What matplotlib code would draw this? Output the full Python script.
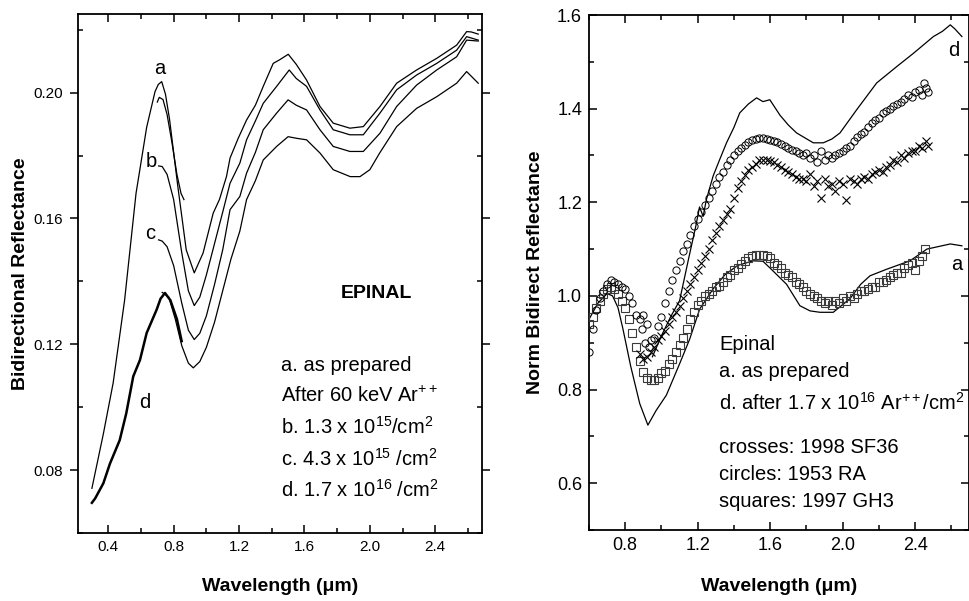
import matplotlib
matplotlib.use("Agg")
import matplotlib.pyplot as plt
from matplotlib.ticker import MultipleLocator, FixedLocator, FuncFormatter

plt.rcParams['font.family'] = ['Liberation Sans', 'DejaVu Sans']
plt.rcParams['mathtext.fontset'] = 'custom'
plt.rcParams['mathtext.rm'] = 'Liberation Sans'
plt.rcParams['mathtext.it'] = 'Liberation Sans'
plt.rcParams['mathtext.default'] = 'regular'

# ---------------- Left panel data (wavelength um, bidirectional reflectance) ----------------
a_wl = [0.30, 0.37, 0.43, 0.50, 0.57, 0.635, 0.686, 0.706, 0.727, 0.75, 0.775, 0.826, 0.877, 0.926, 0.98, 1.042,
        1.08, 1.123, 1.145, 1.195, 1.246, 1.30, 1.348, 1.409, 1.45, 1.501, 1.55, 1.613, 1.695, 1.776,
        1.878, 1.96, 2.062, 2.164, 2.286, 2.409, 2.531, 2.592, 2.62, 2.663]
a_r = [0.0742, 0.0915, 0.1077, 0.134, 0.168, 0.189, 0.2003, 0.2026, 0.2035, 0.1995, 0.1915, 0.170, 0.150, 0.1427, 0.149, 0.1617,
       0.166, 0.1733, 0.1792, 0.1855, 0.1913, 0.1960, 0.202, 0.2093, 0.2105, 0.2122, 0.209, 0.204, 0.1956, 0.1903,
       0.1887, 0.1892, 0.1956, 0.203, 0.2072, 0.2109, 0.2151, 0.2194, 0.2193, 0.2186]

seg_wl = [0.70, 0.712, 0.735, 0.76, 0.79, 0.82, 0.845, 0.863]
seg_r = [0.197, 0.1985, 0.1978, 0.193, 0.184, 0.174, 0.168, 0.166]

b_wl = [0.708, 0.73, 0.76, 0.80, 0.85, 0.89, 0.926, 0.96, 1.0, 1.05, 1.1, 1.145, 1.205, 1.246, 1.30,
        1.348, 1.43, 1.507, 1.55, 1.613, 1.695, 1.776, 1.878, 1.96, 2.062, 2.164, 2.286, 2.409, 2.531,
        2.592, 2.663]
b_r = [0.1767, 0.1765, 0.174, 0.166, 0.149, 0.137, 0.1323, 0.135, 0.142, 0.152, 0.162, 0.1712, 0.1776, 0.185, 0.191,
       0.1966, 0.202, 0.2072, 0.2045, 0.202, 0.1945, 0.1882, 0.1866, 0.1866, 0.1935, 0.2009, 0.2056, 0.2093, 0.2135,
       0.2178, 0.2167]

c_wl = [0.708, 0.73, 0.76, 0.80, 0.85, 0.89, 0.926, 0.96, 1.0, 1.05, 1.1, 1.145, 1.205, 1.246, 1.30,
        1.348, 1.43, 1.50, 1.55, 1.613, 1.695, 1.776, 1.878, 1.96, 2.062, 2.164, 2.286, 2.409, 2.531,
        2.592, 2.663]
c_r = [0.1532, 0.1528, 0.151, 0.145, 0.133, 0.1245, 0.1215, 0.1235, 0.129, 0.139, 0.150, 0.1628, 0.167, 0.1744, 0.181,
       0.1882, 0.1935, 0.1977, 0.196, 0.1945, 0.1882, 0.1829, 0.1813, 0.1813, 0.1871, 0.1956, 0.2024, 0.2072, 0.2114,
       0.2167, 0.2164]

d_wl = [0.73, 0.77, 0.81, 0.85, 0.89, 0.92, 0.96, 1.0, 1.05, 1.1, 1.15, 1.205, 1.246, 1.30, 1.348,
        1.43, 1.50, 1.55, 1.613, 1.695, 1.776, 1.88, 1.94, 2.0, 2.06, 2.164, 2.286, 2.409, 2.531, 2.592, 2.663]
d_r = [0.1365, 0.135, 0.128, 0.1195, 0.114, 0.1125, 0.1145, 0.119, 0.127, 0.137, 0.147, 0.156, 0.166, 0.172, 0.1786,
       0.1829, 0.186, 0.1855, 0.185, 0.1808, 0.1755, 0.1733, 0.1733, 0.1755, 0.1808, 0.1892, 0.195, 0.1987, 0.203,
       0.2067, 0.203]

dvis_wl = [0.30, 0.32, 0.37, 0.41, 0.47, 0.51, 0.553, 0.594, 0.635, 0.696, 0.72, 0.747, 0.78, 0.82, 0.849]
dvis_r = [0.0696, 0.071, 0.0758, 0.082, 0.0895, 0.098, 0.1098, 0.115, 0.1236, 0.131, 0.1345, 0.1363, 0.134, 0.128, 0.121]

# ---------------- Right panel data (normalized reflectance) ----------------
ra_wl = [0.6, 0.65, 0.70, 0.73, 0.76, 0.787, 0.83, 0.88, 0.925, 0.97, 1.027, 1.1, 1.156, 1.211, 1.285,
         1.35, 1.42, 1.506, 1.56, 1.598, 1.69, 1.764, 1.82, 1.875, 1.948, 2.04, 2.1, 2.151, 2.243, 2.372,
         2.465, 2.594, 2.658]
ra_v = [0.95, 0.985, 1.005, 1.0, 0.975, 0.93, 0.85, 0.77, 0.724, 0.755, 0.788, 0.855, 0.908, 0.972, 1.015,
        1.045, 1.065, 1.075, 1.074, 1.06, 1.025, 0.979, 0.968, 0.965, 0.965, 0.994, 1.025, 1.043, 1.057, 1.075,
        1.10, 1.111, 1.107]

rd_wl = [0.95, 1.0, 1.05, 1.1, 1.15, 1.19, 1.21, 1.23, 1.248, 1.285, 1.32, 1.359, 1.40, 1.432, 1.48,
         1.525, 1.56, 1.598, 1.654, 1.70, 1.746, 1.838, 1.893, 1.94, 1.985, 2.078, 2.188, 2.299, 2.39,
         2.501, 2.55, 2.594, 2.62, 2.658]
rd_v = [0.87, 0.915, 0.955, 0.99, 1.08, 1.15, 1.19, 1.17, 1.206, 1.256, 1.29, 1.327, 1.36, 1.391, 1.41,
        1.423, 1.415, 1.419, 1.386, 1.365, 1.348, 1.327, 1.327, 1.335, 1.348, 1.398, 1.455, 1.49, 1.518,
        1.554, 1.565, 1.579, 1.57, 1.554]

circ_wl = [0.60, 0.62, 0.64, 0.66, 0.68, 0.70, 0.72, 0.74, 0.76, 0.78, 0.80, 0.82, 0.84, 0.86, 0.88,
           0.89, 0.90, 0.91, 0.92, 0.93, 0.94, 0.96, 0.98, 1.00, 1.02, 1.04, 1.06, 1.08, 1.10, 1.12, 1.14,
           1.16, 1.18, 1.20, 1.22, 1.24, 1.26, 1.28, 1.30, 1.32, 1.34, 1.36, 1.38, 1.40, 1.42, 1.44, 1.46,
           1.48, 1.50, 1.52, 1.54, 1.56, 1.58, 1.60, 1.62, 1.64, 1.66, 1.68, 1.70, 1.72, 1.74, 1.76, 1.78,
           1.80, 1.82, 1.84, 1.86, 1.88, 1.90, 1.92, 1.94, 1.96, 1.98, 2.00, 2.02, 2.04, 2.06, 2.08, 2.10,
           2.12, 2.14, 2.16, 2.18, 2.20, 2.22, 2.24, 2.26, 2.28, 2.30, 2.32, 2.34, 2.36, 2.38, 2.40, 2.42,
           2.44, 2.45, 2.46, 2.47]
circ_v = [0.88, 0.93, 0.97, 0.995, 1.01, 1.025, 1.035, 1.03, 1.025, 1.02, 1.015, 1.0, 0.985, 0.96, 0.95,
          0.93, 0.96, 0.90, 0.94, 0.89, 0.905, 0.91, 0.935, 0.955, 0.985, 1.01, 1.035, 1.055, 1.075, 1.095, 1.11,
          1.13, 1.15, 1.165, 1.18, 1.195, 1.21, 1.225, 1.24, 1.255, 1.265, 1.28, 1.29, 1.30, 1.31, 1.315, 1.322,
          1.328, 1.332, 1.336, 1.338, 1.337, 1.335, 1.333, 1.33, 1.328, 1.325, 1.32, 1.315, 1.312, 1.31, 1.305, 1.30,
          1.305, 1.295, 1.30, 1.285, 1.31, 1.29, 1.30, 1.295, 1.30, 1.305, 1.31, 1.315, 1.32, 1.33, 1.34, 1.345,
          1.35, 1.36, 1.37, 1.375, 1.38, 1.39, 1.395, 1.40, 1.405, 1.41, 1.415, 1.42, 1.43, 1.425, 1.435, 1.44,
          1.43, 1.455, 1.445, 1.435]

cross_wl = [0.88, 0.90, 0.92, 0.94, 0.96, 0.98, 1.00, 1.02, 1.04, 1.06, 1.08, 1.10, 1.12, 1.14, 1.16,
            1.18, 1.20, 1.22, 1.24, 1.26, 1.28, 1.30, 1.32, 1.34, 1.36, 1.38, 1.40, 1.42, 1.44, 1.46, 1.48,
            1.50, 1.52, 1.54, 1.56, 1.58, 1.60, 1.62, 1.64, 1.66, 1.68, 1.70, 1.72, 1.74, 1.76, 1.78, 1.80,
            1.82, 1.84, 1.86, 1.88, 1.90, 1.92, 1.94, 1.96, 1.98, 2.00, 2.02, 2.04, 2.06, 2.08, 2.10, 2.12,
            2.14, 2.16, 2.18, 2.20, 2.22, 2.24, 2.26, 2.28, 2.30, 2.32, 2.34, 2.36, 2.38, 2.40, 2.42, 2.44,
            2.46, 2.47]
cross_v = [0.875, 0.866, 0.87, 0.88, 0.89, 0.905, 0.915, 0.925, 0.94, 0.955, 0.965, 0.979, 0.995, 1.01, 1.025,
           1.04, 1.055, 1.07, 1.085, 1.10, 1.12, 1.135, 1.15, 1.163, 1.175, 1.185, 1.21, 1.23, 1.245, 1.258, 1.268,
           1.275, 1.282, 1.29, 1.29, 1.29, 1.288, 1.285, 1.28, 1.275, 1.27, 1.265, 1.26, 1.255, 1.25, 1.25, 1.245,
           1.26, 1.235, 1.245, 1.21, 1.25, 1.235, 1.24, 1.225, 1.245, 1.24, 1.205, 1.25, 1.245, 1.24, 1.25, 1.255,
           1.25, 1.26, 1.265, 1.27, 1.265, 1.275, 1.28, 1.29, 1.285, 1.30, 1.295, 1.305, 1.31, 1.31, 1.32, 1.315,
           1.33, 1.32]

sq_wl = [0.60, 0.62, 0.64, 0.66, 0.68, 0.70, 0.72, 0.74, 0.76, 0.78, 0.80, 0.82, 0.84, 0.86, 0.88,
         0.90, 0.92, 0.94, 0.96, 0.98, 1.00, 1.02, 1.04, 1.06, 1.08, 1.10, 1.12, 1.14, 1.16, 1.18, 1.20,
         1.22, 1.24, 1.26, 1.28, 1.30, 1.32, 1.34, 1.36, 1.38, 1.40, 1.42, 1.44, 1.46, 1.48, 1.50, 1.52,
         1.54, 1.56, 1.58, 1.60, 1.62, 1.64, 1.66, 1.68, 1.70, 1.72, 1.74, 1.76, 1.78, 1.80, 1.82, 1.84,
         1.86, 1.88, 1.90, 1.92, 1.94, 1.96, 1.98, 2.00, 2.02, 2.04, 2.06, 2.08, 2.10, 2.12, 2.14, 2.16,
         2.18, 2.20, 2.22, 2.24, 2.26, 2.28, 2.30, 2.32, 2.34, 2.36, 2.38, 2.40, 2.42, 2.44, 2.455]
sq_v = [0.94, 0.955, 0.975, 0.99, 1.005, 1.015, 1.02, 1.015, 1.005, 0.99, 0.975, 0.95, 0.92, 0.89, 0.86,
        0.838, 0.825, 0.82, 0.82, 0.825, 0.835, 0.84, 0.855, 0.865, 0.88, 0.895, 0.91, 0.93, 0.95, 0.965, 0.98,
        0.99, 1.0, 1.005, 1.01, 1.018, 1.022, 1.03, 1.04, 1.045, 1.055, 1.06, 1.068, 1.075, 1.08, 1.085, 1.087,
        1.088, 1.087, 1.085, 1.08, 1.07, 1.065, 1.06, 1.05, 1.045, 1.04, 1.03, 1.025, 1.02, 1.01, 1.005, 1.0,
        0.995, 0.99, 0.985, 0.99, 0.98, 0.99, 0.985, 0.995, 0.99, 1.0, 0.995, 1.005, 1.01, 1.01, 1.015, 1.02,
        1.02, 1.03, 1.03, 1.035, 1.04, 1.045, 1.05, 1.05, 1.06, 1.065, 1.07, 1.055, 1.075, 1.085, 1.10]

left_xticks = [0.4, 0.8, 1.2, 1.6, 2.0, 2.4]
left_yticks = [0.08, 0.12, 0.16, 0.20]
right_xticks = [0.8, 1.2, 1.6, 2.0, 2.4]
right_yticks = [0.6, 0.8, 1.0, 1.2, 1.4, 1.6]

# ---------------- Figure ----------------
fig = plt.figure(figsize=(9.69, 6.01), dpi=100)
W, H = 969.0, 601.0
axL = fig.add_axes([78 / W, (H - 533) / H, (482 - 78) / W, (533 - 14) / H])
axR = fig.add_axes([589 / W, (H - 530) / H, (969.5 - 589) / W, (530 - 15) / H])

lw = 0.9
axL.plot(a_wl, a_r, color='black', lw=lw)
axL.plot(seg_wl, seg_r, color='black', lw=lw)
axL.plot(b_wl, b_r, color='black', lw=lw)
axL.plot(c_wl, c_r, color='black', lw=lw)
axL.plot(d_wl, d_r, color='black', lw=lw)
axL.plot(dvis_wl, dvis_r, color='black', lw=1.8)

axL.set_xlim(0.215, 2.686)
axL.set_ylim(0.06, 0.225)

axR.plot(ra_wl, ra_v, color='black', lw=lw, zorder=2)
axR.plot(rd_wl, rd_v, color='black', lw=lw, zorder=2)
axR.plot(sq_wl, sq_v, ls='none', marker='s', ms=5.2, mfc='none', mec='#3a3a3a', mew=0.8, zorder=3)
axR.plot(circ_wl, circ_v, ls='none', marker='o', ms=5.2, mfc='none', mec='black', mew=0.7, zorder=3)
axR.plot(cross_wl, cross_v, ls='none', marker='x', ms=5.5, mec='black', mew=0.8, zorder=3)
axR.set_xlim(0.6, 2.7)
axR.set_ylim(0.5, 1.6)

for ax, xt, yt, xmin, ymin, tfs in [
        (axL, left_xticks, left_yticks, 0.2, 0.02, 11),
        (axR, right_xticks, right_yticks, 0.2, 0.1, 13)]:
    ax.xaxis.set_major_locator(FixedLocator(xt))
    ax.yaxis.set_major_locator(FixedLocator(yt))
    ax.xaxis.set_minor_locator(MultipleLocator(xmin))
    ax.yaxis.set_minor_locator(MultipleLocator(ymin))
    ax.tick_params(which='both', direction='in', top=True, right=True, width=1.1)
    ax.tick_params(which='major', length=6)
    ax.tick_params(which='minor', length=3.5)
    ax.tick_params(axis='both', labelsize=tfs, pad=5)
    for s in ax.spines.values():
        s.set_linewidth(1.3)

axL.xaxis.set_major_formatter(FuncFormatter(lambda v, p: f"{v:.1f}"))
axL.yaxis.set_major_formatter(FuncFormatter(lambda v, p: f"{v:.2f}"))
axR.xaxis.set_major_formatter(FuncFormatter(lambda v, p: f"{v:.1f}"))
axR.yaxis.set_major_formatter(FuncFormatter(lambda v, p: f"{v:.1f}"))
axL.tick_params(axis='y', which='major', direction='out')

axL.set_xlabel('Wavelength (μm)', fontsize=14, fontweight='bold', labelpad=17)
axL.set_ylabel('Bidirectional Reflectance', fontsize=14, fontweight='bold', labelpad=3)
axR.set_xlabel('Wavelength (μm)', fontsize=14, fontweight='bold', labelpad=17)
axR.set_ylabel('Norm Bidirect Reflectance', fontsize=14, fontweight='bold', labelpad=9)

tfs = 14.5
# curve labels (left)
axL.text(0.716, 0.2078, 'a', fontsize=tfs, ha='center', va='center')
axL.text(0.665, 0.1782, 'b', fontsize=tfs, ha='center', va='center')
axL.text(0.658, 0.1552, 'c', fontsize=tfs, ha='center', va='center')
axL.text(0.626, 0.1015, 'd', fontsize=tfs, ha='center', va='center')
axL.text(0.739, 0.4528, 'EPINAL', fontsize=14, fontweight='bold', ha='center', va='baseline',
         transform=axL.transAxes)
left_lines = ['a. as prepared', 'After 60 keV Ar$^{++}$', 'b. 1.3 x 10$^{15}$/cm$^{2}$',
              'c. 4.3 x 10$^{15}$ /cm$^{2}$', 'd. 1.7 x 10$^{16}$ /cm$^{2}$']
for i, t in enumerate(left_lines):
    y = (533 - (370.7 + 31.65 * i)) / 519.0
    axL.text(0.5025, y, t, fontsize=tfs, ha='left', va='baseline', transform=axL.transAxes)

# right labels
axR.text(2.612, 1.524, 'd', fontsize=tfs, ha='center', va='center')
axR.text(2.627, 1.068, 'a', fontsize=tfs, ha='center', va='center')
right_lines = [('Epinal', 350), ('a. as prepared', 377.3),
               ('d. after 1.7 x 10$^{16}$ Ar$^{++}$/cm$^{2}$', 410),
               ('crosses: 1998 SF36', 452.7), ('circles: 1953 RA', 480), ('squares: 1997 GH3', 507.3)]
for t, yp in right_lines:
    axR.text(0.342, (530 - yp) / 515.0, t, fontsize=tfs, ha='left', va='baseline', transform=axR.transAxes)

fig.savefig('out.png', dpi=100)
